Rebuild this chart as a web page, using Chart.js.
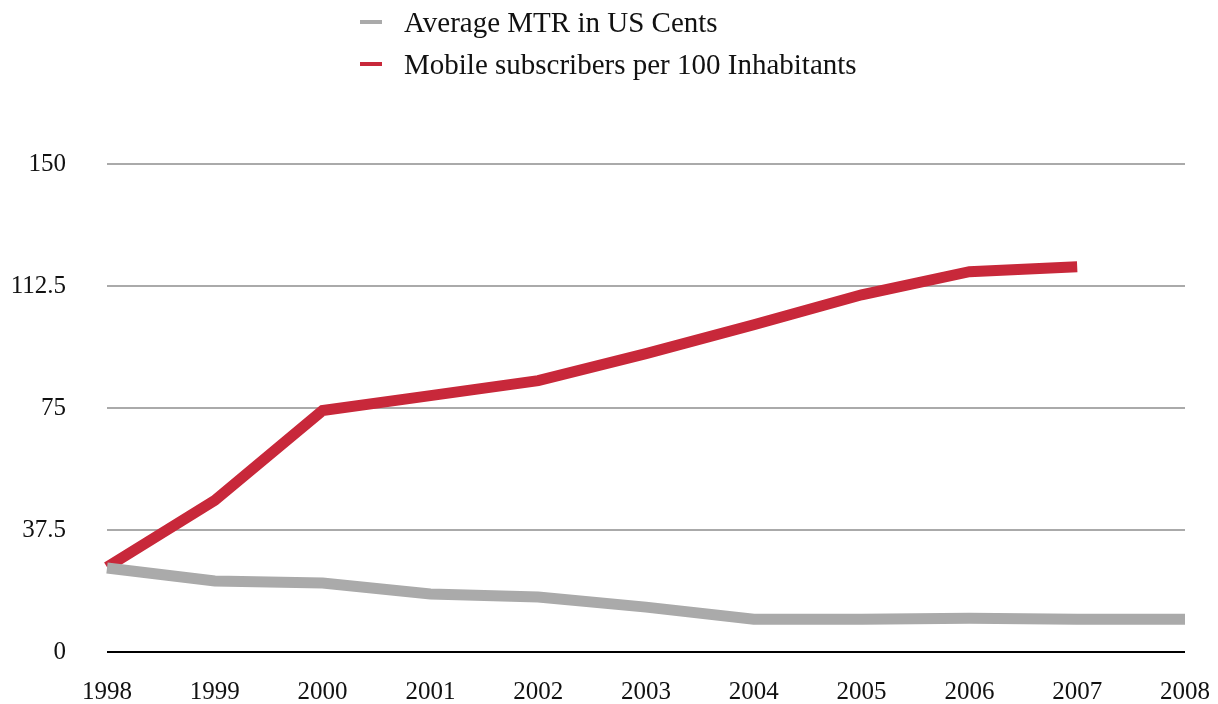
<!DOCTYPE html>
<html>
<head>
<meta charset="utf-8">
<script src="https://cdn.jsdelivr.net/npm/chart.js@4.4.1/dist/chart.umd.min.js"></script>
<style>
    html, body { margin: 0; padding: 0; background: #fff; }
    #wrap { position: relative; width: 1218px; height: 704px; }
    #legend { position: absolute; left: 360px; top: 1px; font-family: "Liberation Serif", serif; font-size: 29px; color: #111; }
    .item { display: flex; align-items: center; height: 42px; }
    .swatch { width: 22px; height: 4px; margin-right: 22px; }
</style>
</head>
<body>
<div id="wrap">
    <canvas id="chart" width="1218" height="704"></canvas>
    <div id="legend"></div>
</div>
<script>
const years = ["1998", "1999", "2000", "2001", "2002", "2003", "2004", "2005", "2006", "2007", "2008"];
const mtrCents = [25.8, 21.8, 21.2, 17.8, 16.9, 13.8, 10.1, 10.1, 10.4, 10.1, 10.1];
const subscribers = [26.1, 46.6, 74.2, 78.8, 83.4, 91.7, 100.6, 109.8, 116.9, 118.4, null];
const yTicks = [0, 37.5, 75, 112.5, 150];

const seriesNames = ["Average MTR in US Cents", "Mobile subscribers per 100 Inhabitants"];
const seriesColors = ["#aaaaaa", "#c8283a"];

const serif = "'Liberation Serif', serif";

const ctx = document.getElementById("chart").getContext("2d");
const chart = new Chart(ctx, {
    type: "line",
    data: {
        labels: years,
        datasets: [
            {
                label: seriesNames[0],
                data: mtrCents,
                borderColor: seriesColors[0],
                borderWidth: 11,
                pointRadius: 0,
                tension: 0,
                borderCapStyle: "butt"
            },
            {
                label: seriesNames[1],
                data: subscribers,
                borderColor: seriesColors[1],
                borderWidth: 11,
                pointRadius: 0,
                tension: 0,
                borderCapStyle: "butt"
            }
        ]
    },
    options: {
        responsive: false,
        animation: false,
        layout: { padding: { top: 164, right: 33, left: 0, bottom: 0 } },
        plugins: {
            legend: { display: false },
            tooltip: { enabled: false }
        },
        scales: {
            x: {
                grid: { display: false },
                border: { display: false },
                ticks: {
                    color: "#111",
                    padding: 17,
                    maxRotation: 0,
                    autoSkip: false,
                    font: { family: serif, size: 25 }
                },
                afterFit: scale => {
                    scale.height = 52;
                    scale.paddingLeft = 0;
                    scale.paddingRight = 0;
                }
            },
            y: {
                min: 0,
                max: 150,
                border: { display: false },
                grid: {
                    drawTicks: false,
                    lineWidth: 2,
                    color: c => (c.tick && c.tick.value === 0) ? "#000" : "#aaaaaa"
                },
                afterBuildTicks: scale => {
                    scale.ticks = yTicks.map(v => ({ value: v }));
                },
                ticks: {
                    color: "#111",
                    padding: 41,
                    font: { family: serif, size: 25 },
                    callback: v => String(v)
                },
                afterFit: scale => {
                    scale.width = 107;
                    scale.paddingTop = 0;
                    scale.paddingBottom = 0;
                }
            }
        }
    }
});

// legend, stacked like the original
const legendBox = document.getElementById("legend");
seriesNames.forEach((name, i) => {
    const item = document.createElement("div");
    item.className = "item";
    const sw = document.createElement("span");
    sw.className = "swatch";
    sw.style.background = seriesColors[i];
    const txt = document.createElement("span");
    txt.textContent = name;
    item.appendChild(sw);
    item.appendChild(txt);
    legendBox.appendChild(item);
});
</script>
</body>
</html>
